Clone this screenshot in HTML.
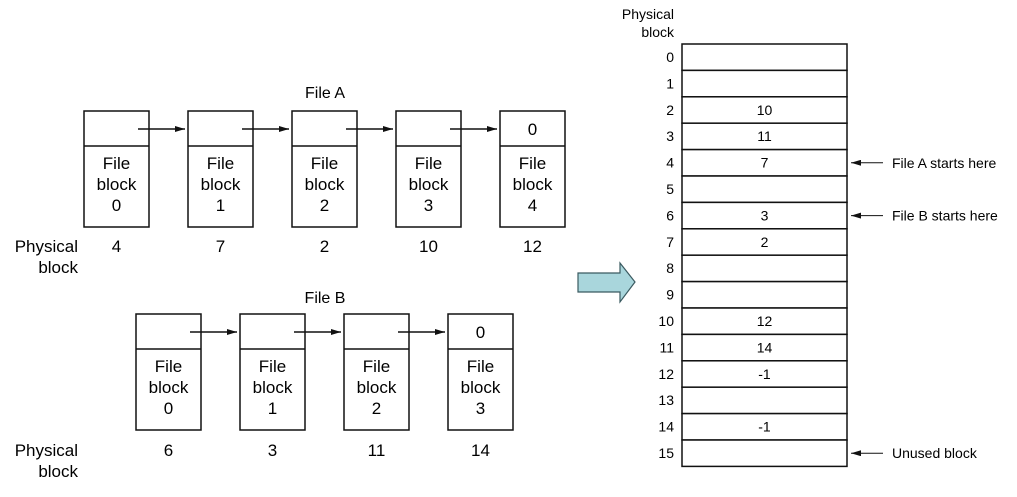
<!DOCTYPE html>
<html><head><meta charset="utf-8"><style>
html,body{margin:0;padding:0;background:#fff;}
svg{display:block;font-family:"Liberation Sans",sans-serif;}
</style></head><body>
<svg id="s" width="1017" height="497" viewBox="0 0 1017 497">
<defs><marker id="ah" markerWidth="10" markerHeight="6" refX="10" refY="3" orient="auto" markerUnits="userSpaceOnUse"><path d="M0,0 L10,3 L0,6 Z" fill="#111"/></marker></defs>
<text x="325" y="98" font-size="16" text-anchor="middle">File A</text>
<text x="325" y="303" font-size="16" text-anchor="middle">File B</text>
<path d="M578,273 L620,273 L620,263 L635,282 L620,302 L620,292 L578,292 Z" fill="#a9d6dc" stroke="#3a5a60" stroke-width="1.2"/>
<text x="674" y="19" font-size="14" text-anchor="end">Physical</text>
<text x="674" y="37" font-size="14" text-anchor="end">block</text>
</svg>
<script>
const fileAPhys=[4,7,2,10,12];
const fileBPhys=[6,3,11,14];
const tableVals=["","","10","11","7","","3","2","","","12","14","-1","","-1",""];
const annotations=[[4,"File A starts here"],[6,"File B starts here"],[15,"Unused block"]];
const s=document.getElementById('s');const NS='http://www.w3.org/2000/svg';
function mk(t,a,txt){const e=document.createElementNS(NS,t);for(const k in a)e.setAttribute(k,a[k]);if(txt!==undefined)e.textContent=txt;s.appendChild(e);return e;}
function chain(x0,top,phys,physY,tag){
  const n=phys.length;
  for(let i=0;i<n;i++){
    const x=x0+i*104;
    const r=mk('rect',{x:x,y:top,width:65,height:116,fill:'#fff',stroke:'#111','stroke-width':1.5});
    
    
    mk('line',{x1:x,y1:top+35,x2:x+65,y2:top+35,stroke:'#111','stroke-width':1.5});
    ['File','block',String(i)].forEach((t,j)=>{const e=mk('text',{x:x+32.5,y:top+58+j*21,'font-size':17,'text-anchor':'middle'},t);
      
      });
    const p=mk('text',{x:x+32.5,y:physY,'font-size':17,'text-anchor':'middle'},String(phys[i]));
    
    
    if(i<n-1){const a=mk('line',{x1:x+54,y1:top+18,x2:x+101,y2:top+18,stroke:'#111','stroke-width':1.5,'marker-end':'url(#ah)'});
      
      }
    else{const z=mk('text',{x:x+32.5,y:top+24,'font-size':17,'text-anchor':'middle'},'0');
      
      }
  }
  const l1=mk('text',{x:78,y:physY,'font-size':17,'text-anchor':'end'},'Physical');
  
  
  mk('text',{x:78,y:physY+21,'font-size':17,'text-anchor':'end'},'block');
}
chain(84,111,fileAPhys,252,'file-a');
chain(136,314,fileBPhys,456,'file-b');
const tx=682,tw=165,ty=44,rh=26.4;
tableVals.forEach((v,i)=>{
  const y=ty+i*rh;
  const r=mk('rect',{x:tx,y:y,width:tw,height:rh,fill:'#fff',stroke:'#111','stroke-width':1.5});
  
  
  const idx=mk('text',{x:674,y:y+18,'font-size':14,'text-anchor':'end'},String(i));
  
  
  if(v!==''){const t=mk('text',{x:tx+tw/2,y:y+18,'font-size':14,'text-anchor':'middle'},v);
    
    }
});
annotations.forEach(([row,label])=>{
  const y=ty+row*rh+rh/2;
  const a=mk('line',{x1:883,y1:y,x2:851,y2:y,stroke:'#111','stroke-width':1,'marker-end':'url(#ah)'});
  
  
  const t=mk('text',{x:892,y:y+5,'font-size':14},label);
  
  
});
</script>
</body></html>
